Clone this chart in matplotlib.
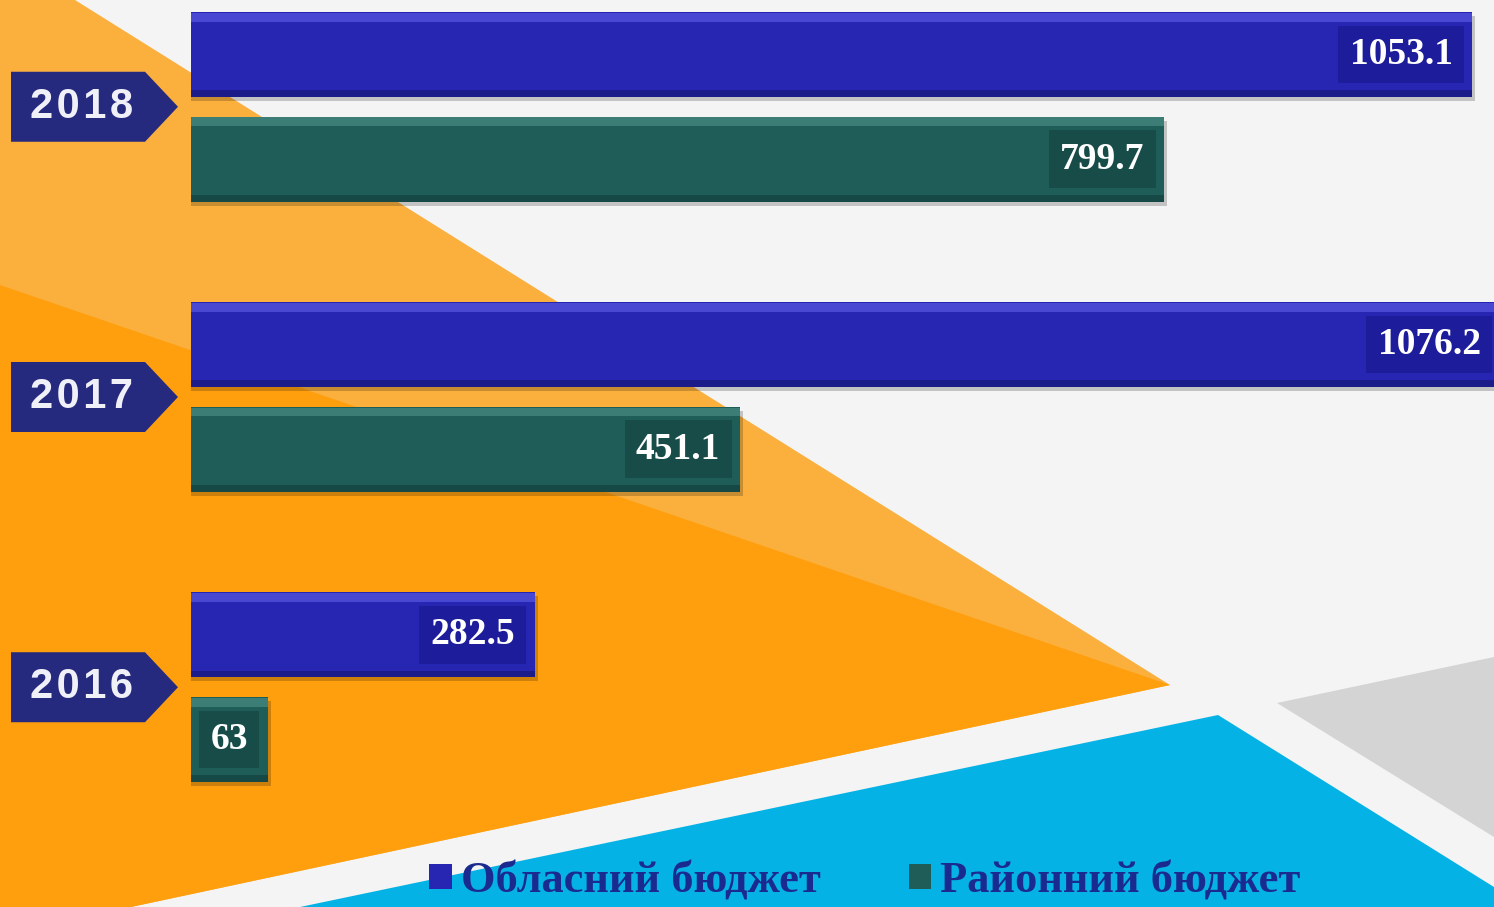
import matplotlib.pyplot as plt
from matplotlib.patches import Polygon, Patch
from matplotlib import transforms

years = ['2016', '2017', '2018']
oblasnyi = [282.5, 1076.2, 1053.1]
raionnyi = [63, 451.1, 799.7]
series_names = ['Обласний бюджет', 'Районний бюджет']

W, H = 1494, 907
fig = plt.figure(figsize=(W / 100, H / 100), dpi=100)
fig.patch.set_facecolor('#f4f4f4')

# decorative background (pixel coords)
bg = fig.add_axes([0, 0, 1, 1])
bg.set_xlim(0, W)
bg.set_ylim(H, 0)
bg.axis('off')
bg.add_patch(Polygon([(0, 0), (75, 0), (1170, 685), (0, 935)], closed=True,
                     facecolor='#fbb03e', edgecolor='none'))
bg.add_patch(Polygon([(0, 285), (1170, 685), (0, 935)], closed=True,
                     facecolor='#ff9f0d', edgecolor='none'))
bg.add_patch(Polygon([(300, 907), (1218, 715), (1494, 887), (1494, 907)], closed=True,
                     facecolor='#05b2e6', edgecolor='none'))
bg.add_patch(Polygon([(1277, 703), (1494, 657), (1494, 837)], closed=True,
                     facecolor='#d4d4d4', edgecolor='none'))

# chart axes on top, full figure
px = 1.2164          # pixels per unit
unit = 290.2         # pixels per year step
ax = fig.add_axes([0, 0, 1, 1])
ax.patch.set_alpha(0)
ax.set_xlim(-191 / px, (W - 191) / px)
ax.set_ylim(-(H - 687.25) / unit, 2 + 106.75 / unit)
ax.axis('off')

pos = list(range(len(years)))
off = 52.25 / unit
h = 85 / unit
sh = 4 / unit

blue = dict(main='#2626b2', top='#5454de', bot='#1a1a86', box='#1d1d9c')
teal = dict(main='#1f5d59', top='#468880', bot='#154744', box='#174c48')

for vals, c, dy in [(oblasnyi, blue, off), (raionnyi, teal, -off)]:
    ys = [p + dy for p in pos]
    # shadow
    ax.barh([y - sh for y in ys], [v + 3 / px for v in vals], height=h,
            color='black', alpha=0.2, zorder=2)
    ax.barh(ys, vals, height=h, color=c['main'], zorder=3)
    ax.barh([y + h / 2 - 0.018 for y in ys], vals, height=0.03,
            color=c['top'], alpha=0.75, zorder=4)
    ax.barh([y - h / 2 + 0.012 for y in ys], vals, height=0.024,
            color=c['bot'], alpha=0.9, zorder=4)
    for y, v in zip(ys, vals):
        ax.annotate(f'{v:g}', xy=(v, y), xytext=(-14, 0), textcoords='offset points',
                    ha='right', va='center', color='white', fontsize=27,
                    family='Liberation Serif', fontweight='bold', zorder=6,
                    annotation_clip=False,
                    bbox=dict(boxstyle='square,pad=0.3', facecolor=c['box'],
                              edgecolor='none'))

# year tags
tr = transforms.blended_transform_factory(fig.transFigure, ax.transData)
half = 35 / unit
for p, yr in zip(pos, years):
    x0, x1, xt = 11 / W, 145 / W, 178 / W
    ax.add_patch(Polygon([(x0, p - half), (x1, p - half), (xt, p), (x1, p + half),
                          (x0, p + half)], closed=True, transform=tr,
                         facecolor='#262a7e', edgecolor='none', zorder=5))
    ax.text(82 / W, p, '\u200a'.join(yr), transform=tr, ha='center', va='center',
            color='#f0f0f8', fontsize=30, fontweight='bold', family='Liberation Sans',
            zorder=6)

handles = [Patch(facecolor=blue['main']), Patch(facecolor=teal['main'])]
fig.legend(handles, series_names, loc='center', bbox_to_anchor=(0.579, 0.028),
           ncol=2, frameon=False, handlelength=0.5, handleheight=0.5,
           handletextpad=0.2, columnspacing=2.0,
           prop=dict(family='Liberation Serif', weight='bold', size=32),
           labelcolor='#1b2a8e')

fig.savefig('out.png', dpi=100, facecolor=fig.get_facecolor())
